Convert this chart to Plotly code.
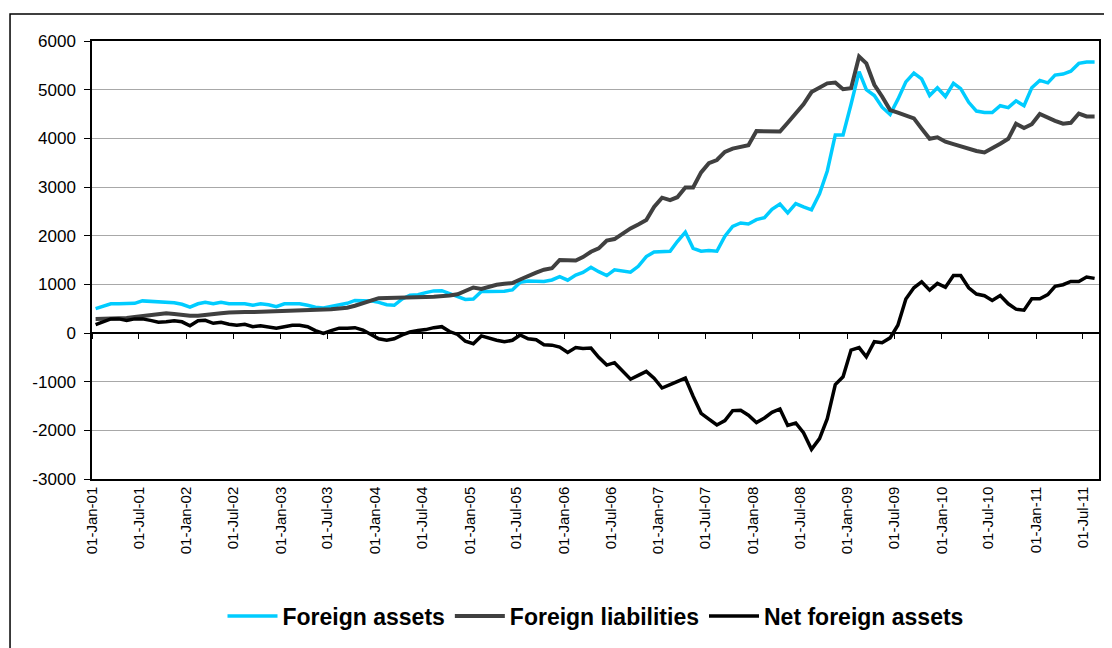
import pandas as pd
import plotly.graph_objects as go

# monthly observations, Jan 2001 - Aug 2011
months = pd.date_range("2001-01-01", periods=128, freq="MS") + pd.Timedelta(days=14)

foreign_assets = [
    500, 560, 600, 600, 600, 610, 660, 650, 630, 630, 620, 590,
    530, 600, 630, 600, 630, 600, 600, 600, 570, 600, 580, 540,
    600, 600, 600, 570, 530, 515, 545, 570, 610, 670, 670, 660,
    630, 580, 570, 700, 775, 785, 830, 865, 870, 810, 760, 690,
    700, 855, 855, 855, 860, 885, 1040, 1070, 1065, 1060, 1090, 1160,
    1085, 1190, 1245, 1350, 1260, 1180, 1300, 1280, 1250, 1370, 1570, 1663,
    1663, 1680, 1880, 2073, 1740, 1680, 1695, 1680, 1990, 2190, 2260, 2240,
    2330, 2370, 2540, 2650, 2470, 2660, 2590, 2530, 2860, 3330, 4070, 4070,
    4700, 5370, 5000, 4880, 4640, 4490, 4800, 5160, 5340, 5220, 4880, 5040,
    4860, 5130, 5020, 4740, 4560, 4530, 4530, 4670, 4630, 4770, 4670, 5040,
    5190, 5140, 5300, 5320, 5380, 5540, 5570, 5570,
]

foreign_liabilities = [
    290, 290, 290, 300, 310, 330, 350, 370, 390, 405, 390, 365,
    355, 355, 365, 385, 405, 420, 430, 430, 430, 435, 440, 445,
    450, 455, 458, 465, 480, 485, 490, 505, 520, 560, 610, 660,
    715, 720, 720, 725, 730, 735, 740, 745, 752, 770, 795, 870,
    935, 905, 950, 990, 1010, 1026, 1100, 1160, 1240, 1300, 1330, 1500,
    1495, 1490, 1560, 1670, 1740, 1900, 1930, 2050, 2150, 2230, 2320, 2590,
    2780, 2730, 2790, 2990, 2990, 3300, 3490, 3555, 3720, 3790, 3830, 3860,
    4150, 4140, 4150, 4140, 4320, 4520, 4700, 4950, 5050, 5130, 5146, 5010,
    5030, 5680, 5540, 5100, 4860, 4580, 4530, 4470, 4410, 4200, 3990, 4020,
    3930, 3880, 3830, 3780, 3740, 3710, 3810, 3890, 3990, 4300, 4210, 4290,
    4500, 4420, 4360, 4300, 4320, 4510, 4450, 4450,
]

net_foreign_assets = [
    170, 240, 290, 290, 260, 290, 290, 260, 220, 230, 250, 230,
    150, 250, 260, 200, 220, 180, 160, 180, 130, 150, 120, 100,
    130, 160, 160, 130, 50, -10, 50, 100, 100, 110, 60, -30,
    -120, -150, -120, -40, 20, 50, 70, 110, 130, 30, -30, -170,
    -220, -60, -110, -150, -180, -150, -40, -120, -140, -240, -250, -290,
    -400, -300, -320, -310, -500, -660, -610, -780, -950, -870, -790, -930,
    -1130, -1060, -990, -925, -1300, -1650, -1770, -1890, -1800, -1595, -1590, -1690,
    -1840, -1745, -1630, -1560, -1900, -1850, -2050, -2390, -2170, -1760, -1060, -900,
    -350, -300, -490, -180, -200, -100, 160, 700, 930, 1050, 880, 1020,
    940, 1183, 1183, 930, 800, 766, 670, 770, 600, 490, 470, 705,
    705, 790, 958, 992, 1060, 1060, 1150, 1122,
]

series_names = ["Foreign assets", "Foreign liabilities", "Net foreign assets"]
series_colors = ["#00CCFF", "#404040", "#000000"]
series_widths = [3.5, 4, 3.5]

y_ticks = [-3000, -2000, -1000, 0, 1000, 2000, 3000, 4000, 5000, 6000]
y_tick_labels = ["-3000", "-2000", "-1000", "0", "1000", "2000", "3000", "4000", "5000", "6000"]

x_range = ["2001-01-01", "2011-09-01"]

fig = go.Figure()
for name, vals, col, w in zip(series_names,
                              [foreign_assets, foreign_liabilities, net_foreign_assets],
                              series_colors, series_widths):
    fig.add_trace(go.Scatter(x=months, y=vals, name=name, mode="lines",
                             line=dict(color=col, width=w)))

# invisible trace so the tick axis on the zero line gets drawn
fig.add_trace(go.Scatter(x=months, y=[None] * len(months), xaxis="x2",
                         showlegend=False, hoverinfo="skip"))

# page body has an 8px margin, so the figure is 8px smaller and margins are shifted
fig.update_layout(
    width=1104, height=640,
    margin=dict(l=84, r=13, t=33, b=168),
    paper_bgcolor="white", plot_bgcolor="white",
    font=dict(family="Arial, Liberation Sans", color="black", size=15),
    showlegend=True,
    legend=dict(orientation="h", x=0.5, xanchor="center", y=-0.31, yanchor="middle",
                font=dict(size=23, weight="bold"), itemwidth=50,
                traceorder="normal"),
    xaxis=dict(type="date", range=x_range, tick0="2001-01-01", dtick="M6",
               tickformat="%d-%b-%y", tickangle=-90, ticks="",
               showgrid=False, showline=True, linecolor="black", linewidth=1.5,
               mirror=True, tickfont=dict(size=15)),
    xaxis2=dict(type="date", range=x_range, tick0="2001-01-01", dtick="M6",
                overlaying="x", anchor="free", position=1 / 3,
                ticks="outside", ticklen=5, tickcolor="black", tickwidth=1.2,
                showticklabels=False, showgrid=False, showline=False, zeroline=False),
    yaxis=dict(range=[-3000, 6000], tickvals=y_ticks, ticktext=y_tick_labels,
               ticks="outside", ticklen=6, tickcolor="black", ticklabelstandoff=5,
               showgrid=True, gridcolor="#a8a8a8", gridwidth=1,
               zeroline=True, zerolinecolor="black", zerolinewidth=1.5,
               showline=True, linecolor="black", linewidth=1.5, mirror=True,
               tickfont=dict(size=17)),
)

# outer chart-area border
fig.add_shape(type="rect", xref="paper", yref="paper",
              x0=-0.0814, x1=1.06, y0=-0.40, y1=1.0615,
              line=dict(color="black", width=1.5), fillcolor="rgba(0,0,0,0)")

fig.write_html("out.html")
